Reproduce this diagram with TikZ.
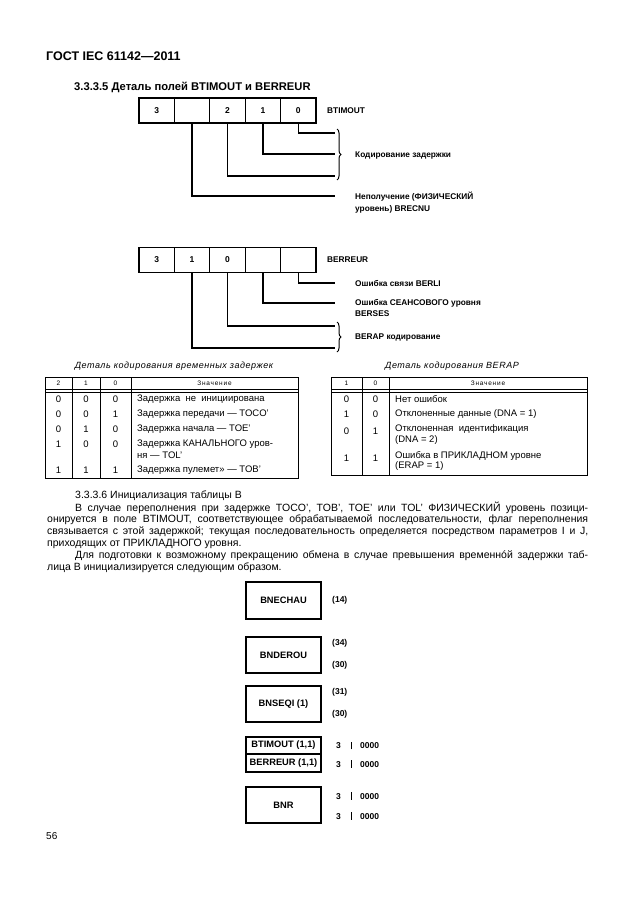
\documentclass[tikz,border=0pt]{standalone}
\usepackage{fontspec}
\setmainfont{Liberation Sans}
\usetikzlibrary{decorations.pathreplacing}
\tikzset{
  bitbox/.style={draw, line width=1.3pt, minimum width=35.4pt, minimum height=25pt, inner sep=0pt, font=\bfseries\fontsize{8.5}{10}\selectfont},
  conn/.style={line width=1.3pt},
  dlbl/.style={anchor=west, inner sep=0pt, align=left, font=\bfseries\fontsize{8.3}{11.5}\selectfont},
  brc/.style={decorate, decoration={brace, amplitude=4pt}, line width=1pt},
  tl/.style={line width=0.8pt},
  tnum/.style={inner sep=0pt, font=\fontsize{9.5}{11}\selectfont},
  tcell/.style={inner sep=0pt, anchor=west, align=left, font=\fontsize{9.5}{11}\selectfont},
  thead/.style={inner sep=0pt, font=\fontsize{6.5}{7}\selectfont\addfontfeature{LetterSpace=12}},
  capt/.style={inner sep=0pt, font=\itshape\fontsize{9}{10}\selectfont\addfontfeature{LetterSpace=6}},
  para/.style={inner sep=0pt, anchor=west, font=\fontsize{10.5}{12}\selectfont},
  nbox/.style={draw, line width=1.3pt, minimum width=75pt, inner sep=0pt, font=\bfseries\fontsize{9.3}{11}\selectfont},
  nval/.style={inner sep=0pt, anchor=west, font=\bfseries\fontsize{8.5}{10}\selectfont}
}
\newcommand{\vbarx}{\rule[-0.6pt]{1.3pt}{7.5pt}}
\begin{document}
\begin{tikzpicture}[x=1pt,y=-1pt]
\fill[white] (0,0) rectangle (630,913);
\useasboundingbox (0,0) rectangle (630,913);

% headings
\node[anchor=west, inner sep=0pt, font=\bfseries\fontsize{12.5}{14}\selectfont] (hdr) at (46,56) {ГОСТ IEC 61142—2011};
\node[anchor=west, inner sep=0pt, font=\bfseries\fontsize{11.2}{13}\selectfont] (h335) at (74,87) {3.3.3.5 Деталь полей BTIMOUT и BERREUR};

% ---------- BTIMOUT ----------
\node[bitbox] (ta) at (156.7,110.5) {3};
\node[bitbox] (tb) at (192.1,110.5) {};
\node[bitbox] (tc) at (227.5,110.5) {2};
\node[bitbox] (td) at (262.9,110.5) {1};
\node[bitbox] (te) at (298.3,110.5) {0};
\node[dlbl] (tlab) at (327,110.5) {BTIMOUT};
\coordinate (te1) at (335,133);
\coordinate (td1) at (335,154);
\coordinate (tc1) at (335,176);
\coordinate (tb1) at (335,196);
\draw[conn] (te.south) |- (te1);
\draw[conn] (td.south) |- (td1);
\draw[conn] (tc.south) |- (tc1);
\draw[conn] (tb.south) |- (tb1);
\coordinate (bt1) at (337,129);
\coordinate (bt2) at (337,180);
\draw[brc] (bt1) -- (bt2);
\node[dlbl] (tcod) at (355,156) {Кодирование задержки};
\node[dlbl] (tnep) at (355,202.5) {Неполучение (ФИЗИЧЕСКИЙ\\уровень) BRECNU};

% ---------- BERREUR ----------
\node[bitbox] (ra) at (156.7,260) {3};
\node[bitbox] (rb) at (192.1,260) {1};
\node[bitbox] (rc) at (227.5,260) {0};
\node[bitbox] (rd) at (262.9,260) {};
\node[bitbox] (re) at (298.3,260) {};
\node[dlbl] (rlab) at (327,260) {BERREUR};
\coordinate (re1) at (335,283);
\coordinate (rd1) at (335,303);
\coordinate (rc1) at (335,326);
\coordinate (rb1) at (335,348);
\draw[conn] (re.south) |- (re1);
\draw[conn] (rd.south) |- (rd1);
\draw[conn] (rc.south) |- (rc1);
\draw[conn] (rb.south) |- (rb1);
\coordinate (br1) at (337,322);
\coordinate (br2) at (337,352);
\draw[brc] (br1) -- (br2);
\node[dlbl] (rberli) at (355,283) {Ошибка связи BERLI};
\node[dlbl] (rberses) at (355,308) {Ошибка СЕАНСОВОГО уровня\\BERSES};
\node[dlbl] (rberap) at (355,338) {BERAP кодирование};

% ---------- left table ----------
\node[capt] (capl) at (174,366) {Деталь кодирования временных задержек};
\draw[tl] (45,377) rectangle (298,478);
\draw[tl] (72,377) -- (72,478);
\draw[tl] (100,377) -- (100,478);
\draw[tl] (131,377) -- (131,478);
\draw[tl] (45,389.5) -- (298,389.5);
\draw[tl] (45,392) -- (298,392);
\node[thead] (lh2) at (58.5,383) {2};
\node[thead] (lh1) at (86,383) {1};
\node[thead] (lh0) at (115.5,383) {0};
\node[thead] (lhz) at (214.5,383) {Значение};
% rows
\node[tnum] (l1a) at (58.5,399.5) {0};
\node[tnum] (l1b) at (86,399.5) {0};
\node[tnum] (l1c) at (115.5,399.5) {0};
\node[tcell] (l1t) at (137,399.5) {Задержка\ \ не\ \ инициирована};
\node[tnum] (l2a) at (58.5,414.5) {0};
\node[tnum] (l2b) at (86,414.5) {0};
\node[tnum] (l2c) at (115.5,414.5) {1};
\node[tcell] (l2t) at (137,414.5) {Задержка передачи — TOCO'};
\node[tnum] (l3a) at (58.5,429.5) {0};
\node[tnum] (l3b) at (86,429.5) {1};
\node[tnum] (l3c) at (115.5,429.5) {0};
\node[tcell] (l3t) at (137,429.5) {Задержка начала — TOE'};
\node[tnum] (l4a) at (58.5,444.5) {1};
\node[tnum] (l4b) at (86,444.5) {0};
\node[tnum] (l4c) at (115.5,444.5) {0};
\node[tcell] (l4t) at (137,444.5) {Задержка КАНАЛЬНОГО уров-};
\node[tcell] (l4u) at (137,455.5) {ня — TOL'};
\node[tnum] (l5a) at (58.5,470) {1};
\node[tnum] (l5b) at (86,470) {1};
\node[tnum] (l5c) at (115.5,470) {1};
\node[tcell] (l5t) at (137,470) {Задержка пулемет» — TOB'};

% ---------- right table ----------
\node[capt] (capr) at (452,366) {Деталь кодирования BERAP};
\draw[tl] (331,377) rectangle (587,475);
\draw[tl] (362,377) -- (362,475);
\draw[tl] (389,377) -- (389,475);
\draw[tl] (331,389.5) -- (587,389.5);
\draw[tl] (331,392) -- (587,392);
\node[thead] (rh1) at (346.5,383) {1};
\node[thead] (rh0) at (375.5,383) {0};
\node[thead] (rhz) at (488,383) {Значение};
\node[tnum] (q1a) at (346.5,399.5) {0};
\node[tnum] (q1b) at (375.5,399.5) {0};
\node[tcell] (q1t) at (395,399.5) {Нет ошибок};
\node[tnum] (q2a) at (346.5,414.5) {1};
\node[tnum] (q2b) at (375.5,414.5) {0};
\node[tcell] (q2t) at (395,414.5) {Отклоненные данные (DNA = 1)};
\node[tnum] (q3a) at (346.5,431) {0};
\node[tnum] (q3b) at (375.5,431) {1};
\node[tcell] (q3t) at (395,429.5) {Отклоненная\ \ идентификация};
\node[tcell] (q3u) at (395,440.5) {(DNA = 2)};
\node[tnum] (q4a) at (346.5,458) {1};
\node[tnum] (q4b) at (375.5,458) {1};
\node[tcell] (q4t) at (395,455.5) {Ошибка в ПРИКЛАДНОМ уровне};
\node[tcell] (q4u) at (395,466.5) {(ERAP = 1)};

% ---------- paragraph ----------
\node[para] (p1) at (75,496) {3.3.3.6 Инициализация таблицы В};
\node[para] (p2) at (75,508) {\makebox[513pt][s]{В случае переполнения при задержке TOCO', TOB', TOE' или TOL' ФИЗИЧЕСКИЙ уровень позици-}};
\node[para] (p3) at (47,520) {\makebox[541pt][s]{онируется в поле BTIMOUT, соответствующее обрабатываемой последовательности, флаг переполнения}};
\node[para] (p4) at (47,532) {\makebox[541pt][s]{связывается с этой задержкой; текущая последовательность определяется посредством параметров I и J,}};
\node[para] (p5) at (47,544) {приходящих от ПРИКЛАДНОГО уровня.};
\node[para] (p6) at (75,556) {\makebox[513pt][s]{Для подготовки к возможному прекращению обмена в случае превышения временнóй задержки таб-}};
\node[para] (p7) at (47,568) {лица В инициализируется следующим образом.};

% ---------- bottom boxes ----------
\node[nbox, minimum height=37pt] (bnechau) at (283.5,600.5) {BNECHAU};
\node[nval] (v14) at (332,600) {(14)};
\node[nbox, minimum height=36pt] (bnderou) at (283.5,655) {BNDEROU};
\node[nval] (v34) at (332,643) {(34)};
\node[nval] (v30a) at (332,665) {(30)};
\node[nbox, minimum height=36pt] (bnseqi) at (283.5,704) {BNSEQI (1)};
\node[nval] (v31) at (332,692) {(31)};
\node[nval] (v30b) at (332,714) {(30)};
\node[nbox, minimum height=17pt] (btim) at (283.5,745.5) {BTIMOUT (1,1)};
\node[nbox, minimum height=18pt] (berr) at (283.5,763) {BERREUR (1,1)};
\node[nval] (w1) at (336,745.5) {3\hspace{10pt}\vbarx\hspace{8pt}0000};
\node[nval] (w2) at (336,764) {3\hspace{10pt}\vbarx\hspace{8pt}0000};
\node[nbox, minimum height=36pt] (bnr) at (283.5,805) {BNR};
\node[nval] (w3) at (336,796) {3\hspace{10pt}\vbarx\hspace{8pt}0000};
\node[nval] (w4) at (336,816) {3\hspace{10pt}\vbarx\hspace{8pt}0000};

\node[anchor=west, inner sep=0pt, font=\fontsize{10}{12}\selectfont] (pg) at (46,836) {56};
\end{tikzpicture}
\end{document}
